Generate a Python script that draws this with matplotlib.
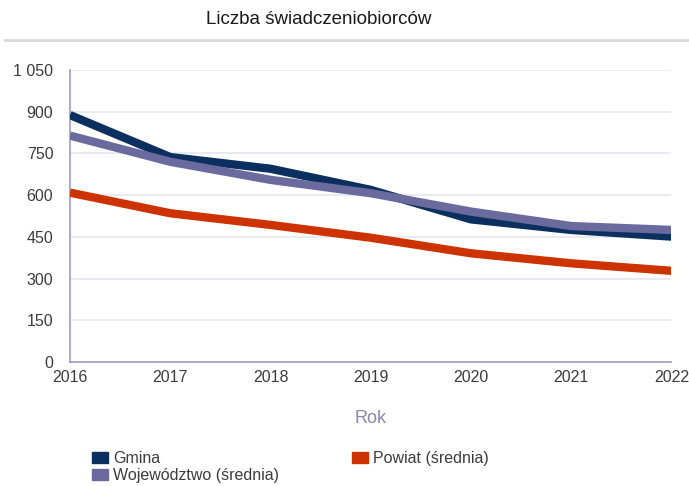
import matplotlib.pyplot as plt
from matplotlib.lines import Line2D

# data
years = [2016, 2017, 2018, 2019, 2020, 2021, 2022]
gmina = [888, 737, 695, 619, 513, 475, 451]
powiat = [609, 535, 493, 447, 391, 355, 328]
wojewodztwo = [814, 720, 655, 607, 541, 489, 475]
yticks = [0, 150, 300, 450, 600, 750, 900, 1050]
ytick_labels = ['0', '150', '300', '450', '600', '750', '900', '1 050']

c_gmina = '#0b3060'
c_powiat = '#cc3300'
c_woj = '#6b6a9e'
axis_col = '#9c9cc4'
text_col = '#3c3c3c'

plt.rcParams['font.family'] = ['Liberation Sans', 'DejaVu Sans']

fig = plt.figure(figsize=(6.89, 4.86), dpi=100)
ax = fig.add_axes([0.1016, 0.255, 0.873, 0.601])

ax.plot(years, gmina, color=c_gmina, lw=6, solid_capstyle='butt', zorder=3, label='Gmina')
ax.plot(years, powiat, color=c_powiat, lw=6, solid_capstyle='butt', zorder=3, label='Powiat (średnia)')
ax.plot(years, wojewodztwo, color=c_woj, lw=6, solid_capstyle='butt', zorder=4, label='Województwo (średnia)')

ax.set_xlim(2016, 2022)
ax.set_ylim(0, 1050)
ax.set_yticks(yticks)
ax.set_yticklabels(ytick_labels)
ax.set_xticks(years)
ax.tick_params(length=0, labelsize=11.5, colors=text_col)
ax.tick_params(axis='y', pad=12)
ax.tick_params(axis='x', pad=6)
ax.grid(axis='y', color='#e6e6f0', lw=1.2)
ax.set_axisbelow(True)
for s in ['top', 'right']:
    ax.spines[s].set_visible(False)
for s in ['left', 'bottom']:
    ax.spines[s].set_color(axis_col)
    ax.spines[s].set_linewidth(1.2)

ax.set_xlabel('Rok', color='#8888b0', fontsize=13, labelpad=18)

fig.text(0.462, 0.96, 'Liczba świadczeniobiorców', ha='center', va='center',
         fontsize=13.5, color='#1a1a1a')
fig.add_artist(Line2D([0.007, 1.0], [0.917, 0.917], color='#d8d8d8', lw=2))

handles, labels = ax.get_legend_handles_labels()
handles = [plt.Rectangle((0, 0), 1, 1, color=h.get_color()) for h in handles]
order = [0, 2, 1]
fig.legend([handles[i] for i in order], [labels[i] for i in order],
           loc='upper left', bbox_to_anchor=(0.113, 0.102), ncol=2,
           frameon=False, fontsize=11.5, handlelength=1.0, handleheight=0.7,
           handletextpad=0.3, columnspacing=4.6, labelspacing=0.15,
           labelcolor=text_col)

fig.savefig('out.png', dpi=100)
